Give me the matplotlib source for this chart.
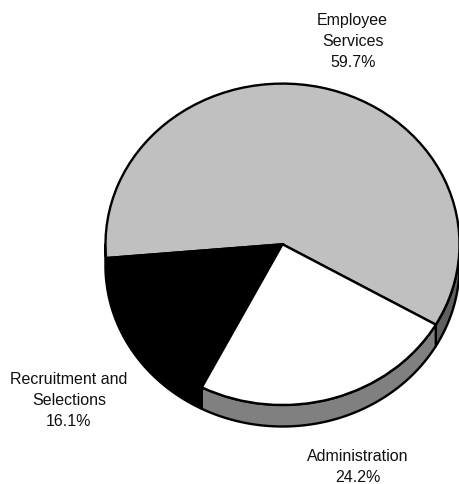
import numpy as np
import matplotlib
matplotlib.use("Agg")
import matplotlib.pyplot as plt

plt.rcParams['font.family'] = ['Liberation Sans', 'DejaVu Sans']

labels = ["Employee\nServices\n59.7%", "Recruitment and\nSelections\n16.1%", "Administration\n24.2%"]
values = [59.7, 16.1, 24.2]
top_colors = ['#c0c0c0', '#000000', '#ffffff']
side_colors = ['#606060', '#000000', '#808080']
start_angle = -30

W, H = 460, 485
cx, cy = 282.5, 245.3
rx, ry = 177, 160.7
depth = 21.5 / ry

fig = plt.figure(figsize=(W / 100, H / 100), dpi=100)
ax = fig.add_axes([0, 0, 1, 1])


def draw_side(a0, a1, color):
    # only the front half of the rim can be seen
    a0, a1 = max(a0, 180), min(a1, 360)
    if a1 <= a0:
        return
    t = np.radians(np.linspace(a0, a1, 120))
    x = np.cos(t)
    y = np.sin(t)
    xs = np.concatenate([x, x[::-1]])
    ys = np.concatenate([y, y[::-1] - depth])
    ax.fill(xs, ys, facecolor=color, edgecolor='black', linewidth=1.7, joinstyle='round')


# rim first, the pie goes on top of it
a = start_angle
for v, c in zip(values, side_colors):
    b = a + v * 3.6
    draw_side(a, b, c)
    draw_side(a + 360, b + 360, c)
    a = b

ax.pie(values, colors=top_colors, startangle=start_angle, radius=1, center=(0, 0),
       wedgeprops={'edgecolor': 'black', 'linewidth': 1.7})

ax.set_aspect('auto')
ax.set_xlim(-cx / rx, (W - cx) / rx)
ax.set_ylim((cy - H) / ry, cy / ry)
ax.axis('off')

# slice labels
fs = 11.5
fig.text(352.7 / W, 1 - 41.5 / H, labels[0], ha='center', va='center', fontsize=fs, linespacing=1.52, color='#111111')
fig.text(69 / W, 1 - 400.5 / H, labels[1], ha='center', va='center', fontsize=fs, linespacing=1.52, color='#111111')
fig.text(358 / W, 1 - 467 / H, labels[2], ha='center', va='center', fontsize=fs, linespacing=1.52, color='#111111')

fig.savefig("out.png", dpi=100)
